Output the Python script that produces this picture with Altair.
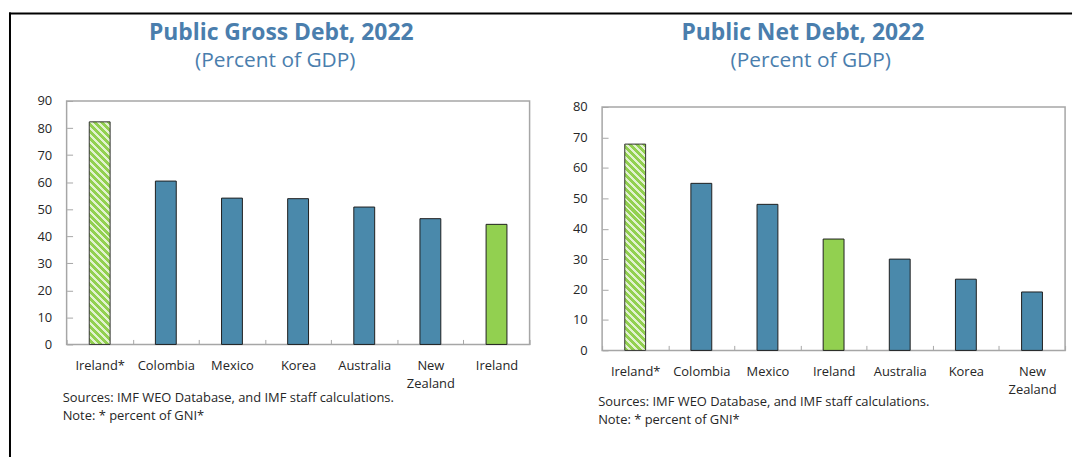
import altair as alt
import pandas as pd

gross_countries = ["Ireland*", "Colombia", "Mexico", "Korea", "Australia", "New Zealand", "Ireland"]
gross_values = [82.3, 60.4, 54.1, 53.9, 50.8, 46.5, 44.4]
net_countries = ["Ireland*", "Colombia", "Mexico", "Ireland", "Australia", "Korea", "New Zealand"]
net_values = [67.8, 54.9, 48.0, 36.6, 30.0, 23.4, 19.2]

titles = ["Public Gross Debt, 2022", "Public Net Debt, 2022"]
subtitle = "(Percent of GDP)"
source_note = "Sources: IMF WEO Database, and IMF staff calculations."
gni_note = "Note: * percent of GNI*"
gross_ticks = [0, 10, 20, 30, 40, 50, 60, 70, 80, 90]
net_ticks = [0, 10, 20, 30, 40, 50, 60, 70, 80]

BLUE = "#4a89ab"
GREEN = "#92d050"
PALE = "#e2f2d0"
TITLE_C = "#4a7ead"
TEXT_C = "#262626"
AXIS_C = "#a6a6a6"
FONT = "Open Sans"
W, H = 466, 245
BAR_W = 21


def kind(c):
    if c.endswith("*"):
        return "hatch"
    return "green" if c == "Ireland" else "blue"


def hatch(bar_h, bar_w=BAR_W, period=7.0, frac=0.58):
    span = bar_h + bar_w
    P = period / span
    stops = []
    k = 0
    while k * P < 1:
        a = k * P
        b = min(1.0, a + frac * P)
        c = min(1.0, a + P)
        stops += [
            {"offset": round(a, 5), "color": GREEN},
            {"offset": round(b, 5), "color": GREEN},
            {"offset": round(b, 5), "color": PALE},
            {"offset": round(c, 5), "color": PALE},
        ]
        k += 1
    t = span / (bar_w ** 2 + bar_h ** 2)
    return alt.LinearGradient(
        gradient="linear", x1=1, y1=0, x2=1 - bar_w * t, y2=bar_h * t, stops=stops
    )


def txt(text, x, y, size, weight="normal", color=TEXT_C, align="left"):
    return alt.Chart(pd.DataFrame({"t": [text]})).mark_text(
        align=align, baseline="alphabetic", fontSize=size, fontWeight=weight,
        color=color, font=FONT
    ).encode(text="t:N", x=alt.value(x), y=alt.value(y))


def rule(x, x2, y, y2):
    return alt.Chart(pd.DataFrame({"a": [0]})).mark_rule(
        color="black", strokeWidth=2, strokeCap="square"
    ).encode(x=alt.value(x), x2=alt.value(x2), y=alt.value(y), y2=alt.value(y2))


def box(top, bottom):
    return alt.Chart(pd.DataFrame({"a": [0]})).mark_rect(
        fillOpacity=0, stroke=AXIS_C, strokeWidth=1.5
    ).encode(x=alt.value(0), x2=alt.value(W), y=alt.value(top), y2=alt.value(bottom))


def panel(countries, values, ticks, ymax, title, shift, tx, sx, ny, rules):
    df = pd.DataFrame({
        "country": countries,
        "value": values,
        "kind": [kind(c) for c in countries],
    })
    x = alt.X(
        "country:N", sort=countries, title=None,
        scale=alt.Scale(paddingInner=0, paddingOuter=0),
        axis=alt.Axis(
            labelAngle=0, labelExpr="split(datum.label, ' ')", domain=False,
            tickBand="extent", tickSize=5, offset=-5, tickColor=AXIS_C,
            labelPadding=15, labelFontSize=13, labelColor=TEXT_C, labelFont=FONT,
            labelLineHeight=18,
        ),
    )
    y = alt.Y(
        "value:Q", title=None,
        scale=alt.Scale(domain=[0, ymax], nice=False, range=[H + shift, shift]),
        axis=alt.Axis(
            values=ticks, domain=False, grid=False, tickSize=6, offset=-6,
            tickColor=AXIS_C, labelPadding=15, labelFontSize=13,
            labelColor=TEXT_C, labelFont=FONT,
        ),
    )
    base = alt.Chart(df)
    bars = base.transform_filter("datum.kind != 'hatch'").mark_bar(
        width=BAR_W, stroke="#1f1f1f", strokeWidth=1
    ).encode(
        x=x, y=y,
        color=alt.Color("kind:N", scale=alt.Scale(domain=["blue", "green"], range=[BLUE, GREEN]), legend=None),
    )
    hv = values[countries.index("Ireland*")]
    hbar = base.transform_filter("datum.kind == 'hatch'").mark_bar(
        width=BAR_W, stroke="#333333", strokeWidth=1, fill=hatch(hv * H / ymax)
    ).encode(x=x, y=y)
    layers = [box(shift, H + shift), bars, hbar,
              txt(title, tx, -61, 23, "bold", TITLE_C, "center"),
              txt(subtitle, sx, -34, 21, "normal", TITLE_C, "center"),
              txt(source_note, -4, ny, 13),
              txt(gni_note, -4, ny + 18, 13)]
    layers += [rule(*r) for r in rules]
    return alt.layer(*layers).properties(width=W, height=H + shift)


left = panel(gross_countries, gross_values, gross_ticks, 90, titles[0], 0,
             216, 210, 303,
             [(-57, -57, -88, 400), (-57, 1011, -88, -88)])
right = panel(net_countries, net_values, net_ticks, 80, titles[1], 6,
              202, 210, 307, [])

chart = alt.hconcat(left, right, spacing=73, bounds="flush").properties(
    padding={"top": 2, "left": 0, "right": 5, "bottom": 5}
).configure_view(strokeWidth=0)

chart.save("out.html", embed_options={"renderer": "svg", "actions": False})
